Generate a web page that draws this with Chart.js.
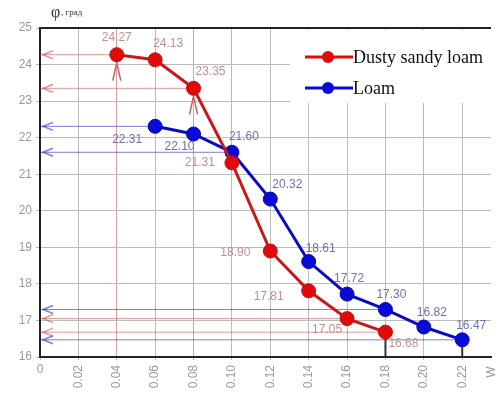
<!DOCTYPE html>
<html>
<head>
<meta charset="utf-8">
<script src="https://cdn.jsdelivr.net/npm/chart.js@4"></script>
<style>
  html, body { margin: 0; padding: 0; background: #fff; }
  #wrap { width: 499px; height: 405px; }
</style>
</head>
<body>
<div id="wrap"><canvas id="chart"></canvas></div>
<script>
// moisture W
const sandyW = [0.04, 0.06, 0.08, 0.10, 0.12, 0.14, 0.16, 0.18];
const sandyPhi = [24.27, 24.13, 23.35, 21.31, 18.90, 17.81, 17.05, 16.68];

const loamW = [0.06, 0.08, 0.10, 0.12, 0.14, 0.16, 0.18, 0.20, 0.22];
const loamPhi = [22.31, 22.10, 21.60, 20.32, 18.61, 17.72, 17.30, 16.82, 16.47];

const seriesNames = ["Dusty sandy loam", "Loam"];

// guide lines from the y axis to these points (index into the series)
const sandyGuides = [0, 2, 6, 7];
const loamGuides = [0, 2, 6, 8];

const RED = "#e00a0a";
const BLUE = "#0a0ad8";

// label offsets in px, per point
const sandyOffsets = [[0, -17], [13, -16], [17, -17], [-32, 0], [-35, 2], [-40, 6], [-20, 11], [18, 12]];
const loamOffsets = [[-28, 13], [-14, 13], [12, -16], [17, -14], [12, -13], [2, -15], [6, -15], [8, -14], [9, -14]];

const toPts = (xs, ys) => xs.map((x, i) => ({ x: x, y: ys[i] }));

const guidePlugin = {
    id: "guides",
    beforeDatasetsDraw(chart) {
        const c = chart.ctx;
        const xs = chart.scales.x;
        const ys = chart.scales.y;
        const area = chart.chartArea;
        const draw = (wArr, pArr, idx, col) => {
            idx.forEach(i => {
                const px = xs.getPixelForValue(wArr[i]);
                const py = ys.getPixelForValue(pArr[i]);
                c.save();
                c.strokeStyle = col;
                c.lineWidth = 1;
                c.beginPath();
                c.moveTo(area.left, py);
                c.lineTo(px, py);
                c.stroke();
                // arrow head at the axis
                c.lineWidth = 1.5;
                c.beginPath();
                c.moveTo(area.left + 13, py - 4);
                c.lineTo(area.left + 3, py);
                c.lineTo(area.left + 13, py + 4);
                c.stroke();
                c.restore();
            });
        };
        draw(sandyW, sandyPhi, sandyGuides, "rgba(200,80,80,0.6)");
        draw(loamW, loamPhi, loamGuides, "rgba(40,40,200,0.6)");

        // up arrows under some points
        const upArrow = (w, phi, col, len) => {
            const px = xs.getPixelForValue(w);
            const py = ys.getPixelForValue(phi);
            c.save();
            c.strokeStyle = col;
            c.lineWidth = 1.5;
            c.beginPath();
            c.moveTo(px - 4, py + len);
            c.lineTo(px, py + 8);
            c.lineTo(px + 4, py + len);
            c.stroke();
            c.restore();
        };
        upArrow(sandyW[0], sandyPhi[0], "#c86060", 26);
        upArrow(sandyW[2], sandyPhi[2], "#c86060", 26);
        c.save();
        c.strokeStyle = "#333";
        c.lineWidth = 2;
        [[sandyW[7], sandyPhi[7]], [loamW[8], loamPhi[8]]].forEach(p => {
            const px = xs.getPixelForValue(p[0]);
            const py = ys.getPixelForValue(p[1]);
            c.beginPath();
            c.moveTo(px, area.bottom);
            c.lineTo(px, py + 6);
            c.stroke();
        });
        c.restore();
    },
    afterDatasetsDraw(chart) {
        const c = chart.ctx;
        const xs = chart.scales.x;
        const ys = chart.scales.y;
        const area = chart.chartArea;

        // value labels
        c.save();
        c.font = "12px Arial, 'Liberation Sans', sans-serif";
        c.textAlign = "center";
        c.textBaseline = "middle";
        sandyPhi.forEach((v, i) => {
            c.fillStyle = "#c09090";
            c.fillText(v.toFixed(2), xs.getPixelForValue(sandyW[i]) + sandyOffsets[i][0], ys.getPixelForValue(v) + sandyOffsets[i][1]);
        });
        loamPhi.forEach((v, i) => {
            c.fillStyle = "#6a74a8";
            c.fillText(v.toFixed(2), xs.getPixelForValue(loamW[i]) + loamOffsets[i][0], ys.getPixelForValue(v) + loamOffsets[i][1]);
        });
        c.restore();

        // top frame line
        c.save();
        c.strokeStyle = "#222";
        c.lineWidth = 2;
        c.beginPath();
        c.moveTo(area.left, area.top);
        c.lineTo(area.right, area.top);
        c.stroke();
        c.restore();

        // legend
        c.save();
        c.fillStyle = "#fff";
        c.fillRect(290, area.top + 2, chart.width - 290, 73);
        const items = [[seriesNames[0], RED, 57], [seriesNames[1], BLUE, 88]];
        items.forEach(it => {
            c.strokeStyle = it[1];
            c.lineWidth = 3;
            c.beginPath();
            c.moveTo(305, it[2]);
            c.lineTo(353, it[2]);
            c.stroke();
            c.fillStyle = it[1];
            c.beginPath();
            c.arc(328, it[2], 6, 0, Math.PI * 2);
            c.fill();
            c.fillStyle = "#111";
            c.font = "18px 'Liberation Serif', 'Times New Roman', serif";
            c.textAlign = "left";
            c.textBaseline = "middle";
            c.fillText(it[0], 353, it[2] + 1);
        });
        c.restore();

        // axis names and the upright zero
        c.save();
        c.fillStyle = "#333";
        c.font = "16px 'Liberation Serif', serif";
        c.textBaseline = "middle";
        c.fillText("φ", 51, 13);
        c.font = "9px 'Liberation Serif', serif";
        c.fillText(", град", 61, 13);
        c.fillStyle = "#999";
        c.font = "12px Arial, 'Liberation Sans', sans-serif";
        c.textAlign = "center";
        c.fillText("0", area.left, area.bottom + 13);
        c.translate(492, 372);
        c.rotate(-Math.PI / 2);
        c.fillText("W", 0, 0);
        c.restore();
    }
};

new Chart(
    document.getElementById("chart"),
    {
        type: "line",
        data: {
            datasets: [
                {
                    label: seriesNames[0],
                    data: toPts(sandyW, sandyPhi),
                    borderColor: "#c81818",
                    backgroundColor: RED,
                    pointBackgroundColor: RED,
                    pointBorderColor: "#c01010",
                    borderWidth: 3,
                    pointRadius: 7,
                    pointBorderWidth: 1
                },
                {
                    label: seriesNames[1],
                    data: toPts(loamW, loamPhi),
                    borderColor: "#0a0ac0",
                    backgroundColor: BLUE,
                    pointBackgroundColor: BLUE,
                    pointBorderColor: "#0808b0",
                    borderWidth: 3,
                    pointRadius: 7,
                    pointBorderWidth: 1
                }
            ]
        },
        options: {
            responsive: true,
            maintainAspectRatio: false,
            animation: false,
            layout: { padding: { top: 28, right: 0, left: 0, bottom: 0 } },
            plugins: {
                legend: { display: false },
                tooltip: { enabled: false }
            },
            scales: {
                x: {
                    type: "linear",
                    min: 0,
                    max: 0.235,
                    afterFit: s => { s.height = 48; },
                    ticks: {
                        stepSize: 0.02,
                        includeBounds: false,
                        minRotation: 90,
                        maxRotation: 90,
                        color: "#999",
                        padding: 5,
                        font: { size: 12, family: "Arial, 'Liberation Sans', sans-serif" },
                        callback: v => v < 0.001 ? "" : v.toFixed(2)
                    },
                    grid: {
                        color: ctx => {
                            const v = ctx.tick ? ctx.tick.value : 0;
                            return (Math.abs(v - 0.04) < 0.001 || Math.abs(v - 0.08) < 0.001) ? "#d8a0a0" : "#bbbbbb";
                        },
                        tickLength: 3
                    },
                    border: { color: "#222", width: 2 }
                },
                y: {
                    min: 16,
                    max: 25,
                    afterFit: s => { s.width = 40; },
                    ticks: {
                        stepSize: 1,
                        color: "#999",
                        padding: 4,
                        font: { size: 12, family: "Arial, 'Liberation Sans', sans-serif" }
                    },
                    grid: { color: "#bbbbbb", tickLength: 4 },
                    border: { color: "#222", width: 2 }
                }
            }
        },
        plugins: [guidePlugin]
    }
);
</script>
</body>
</html>
